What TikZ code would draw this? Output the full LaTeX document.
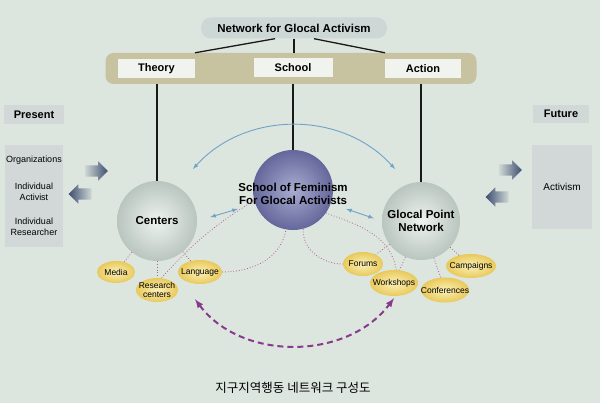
\documentclass[tikz,border=0pt]{standalone}
\usepackage{fontspec}
\setmainfont{Liberation Sans}
\newfontfamily\kofont{Noto Sans CJK KR}
\usetikzlibrary{shapes.geometric,shapes.arrows,calc}

\definecolor{bgcol}{HTML}{DDE5DF}
\definecolor{pillcol}{HTML}{CDD7D6}
\definecolor{bandcol}{HTML}{C7C2A0}
\definecolor{tagcol}{HTML}{F1F3EF}
\definecolor{sidecol}{HTML}{D1D8D7}
\definecolor{dotcol}{HTML}{B0608F}
\definecolor{bluecol}{HTML}{6FA3C8}
\definecolor{purpcol}{HTML}{8A3A8C}
\definecolor{arrcol}{HTML}{3D4E70}
\definecolor{yelin}{HTML}{FBF0B8}
\definecolor{yelout}{HTML}{E8C95A}
\definecolor{ballin}{HTML}{EEF3EF}
\definecolor{ballout}{HTML}{B9C5BF}
\definecolor{schin}{HTML}{A9ACD0}
\definecolor{schout}{HTML}{64679A}

\begin{document}
\begin{tikzpicture}[x=1pt,y=1pt,
	pill/.style={fill=pillcol, rounded corners=10pt, minimum width=186pt, minimum height=21pt, font=\bfseries\fontsize{11.5}{13}\selectfont},
	tag/.style={fill=tagcol, inner sep=0, minimum height=19pt, font=\bfseries\fontsize{11}{13}\selectfont},
	sidebox/.style={fill=sidecol, inner sep=0},
	sidetxt/.style={font=\fontsize{9}{11}\selectfont, align=center},
	sph/.style={circle, inner sep=0, minimum size=80pt, inner color=ballin, outer color=ballout},
	big/.style={font=\bfseries\fontsize{11.5}{13.5}\selectfont, align=center},
	yel/.style={ellipse, inner sep=0, inner color=yelin, outer color=yelout},
	lab/.style={font=\fontsize{8.5}{9.5}\selectfont, align=center},
	stem/.style={line width=1.3pt, draw=black!90},
	dotline/.style={dotted, line width=0.8pt, draw=dotcol},
	bluearr/.style={latex-latex, draw=bluecol, line width=0.9pt},
	purpdash/.style={latex-latex, draw=purpcol, line width=2pt, dash pattern=on 6pt off 4pt},
	blk/.style={single arrow, inner xsep=0, inner ysep=5.5pt, minimum height=23pt, single arrow head extend=4pt}]

	% background
	\useasboundingbox (0,0) rectangle (600,403);
	\fill[bgcol] (0,0) rectangle (600,403);

	% top: title and band
	\node[pill] (title) at (294,375) {Network for Glocal Activism};
	\node[fill=bandcol, rounded corners=8pt, minimum width=371pt, minimum height=31pt] (band) at (291,334.5) {};
	\node[tag, minimum width=77pt] (theory) at (156.5,334) {Theory};
	\node[tag, minimum width=79pt] (school) at (293,335) {School};
	\node[tag, minimum width=76pt] (action) at (423,334.5) {Action};
	\draw[stem] ($(title.south)+(-19,0)$) -- ($(band.north)+(-96,0)$);
	\draw[stem] (title.south) -- (title.south |- band.north);
	\draw[stem] ($(title.south)+(20,0)$) -- ($(band.north)+(94,0)$);

	% present / future
	\node[sidebox, minimum width=60pt, minimum height=19pt, font=\bfseries\fontsize{11}{13}\selectfont] (present) at (34,288.5) {Present};
	\node[sidebox, minimum width=58pt, minimum height=102pt] (plist) at (34,207) {};
	\node[sidetxt] (org) at (34,243) {Organizations};
	\node[sidetxt] (indact) at (34,211) {Individual\\Activist};
	\node[sidetxt] (indres) at (34,176.5) {Individual\\Researcher};
	\node[sidebox, minimum width=56pt, minimum height=18pt, font=\bfseries\fontsize{11}{13}\selectfont] (future) at (561,289) {Future};
	\node[sidebox, minimum width=60pt, minimum height=84pt, font=\fontsize{10}{12}\selectfont] (activism) at (562,216) {Activism};

	% block arrows
	\node[blk, left color=arrcol!8!bgcol, right color=arrcol] (pinR) at (93.5,232) {};
	\node[blk, shape border rotate=180, left color=arrcol, right color=arrcol!8!bgcol] (pinL) at (83,209) {};
	\node[blk, left color=arrcol!8!bgcol, right color=arrcol] (finR) at (507.5,233) {};
	\node[blk, shape border rotate=180, left color=arrcol, right color=arrcol!8!bgcol] (finL) at (500,206) {};

	% spheres
	\node[sph, label={[big]center:Centers}] (cen) at (157,182) {};
	\node[sph, inner color=schin, outer color=schout, label={[big,yshift=-4pt]center:School of Feminism\\For Glocal Activists}] (sch) at (293,213) {};
	\node[sph, minimum size=78pt, label={[big]center:Glocal Point\\Network}] (gpn) at (421,182) {};
	\draw[stem] (cen.north |- band.south) -- (cen.north);
	\draw[stem] (sch.north |- band.south) -- (sch.north);
	\draw[stem] (gpn.north |- band.south) -- (gpn.north);

	% yellow ellipses
	\node[yel, minimum width=38pt, minimum height=22pt, label={[lab]center:Media}] (media) at (116,131) {};
	\node[yel, minimum width=42pt, minimum height=24pt, label={[lab]center:Research\\centers}] (research) at (157,113) {};
	\node[yel, minimum width=44pt, minimum height=24pt, label={[lab]center:Language}] (language) at (200,131) {};
	\node[yel, minimum width=40pt, minimum height=24pt, label={[lab]center:Forums}] (forums) at (363,139) {};
	\node[yel, minimum width=48pt, minimum height=26pt, label={[lab]center:Workshops}] (workshops) at (394,120) {};
	\node[yel, minimum width=48pt, minimum height=25pt, label={[lab]center:Conferences}] (conferences) at (445,113) {};
	\node[yel, minimum width=50pt, minimum height=24pt, label={[lab]center:Campaigns}] (campaigns) at (471,137) {};

	% dotted links
	\foreach \e in {media,research,language}{\draw[dotline] (cen) -- (\e);}
	\foreach \e in {forums,workshops,conferences,campaigns}{\draw[dotline] (gpn) -- (\e);}
	\draw[dotline] (sch.195) to[bend right=8] (research.70);
	\draw[dotline] (language.east) to[out=0,in=260] (sch.260);
	\draw[dotline] (sch.285) to[out=265,in=180] (forums.west);
	\draw[dotline] (sch.-35) to[out=-20,in=100] (workshops.80);

	% blue arrows
	\coordinate (arcL) at (193,234);
	\coordinate (arcR) at (395,234);
	\draw[bluearr] (arcL) to[out=48,in=132] (arcR);
	\draw[bluearr, shorten <=13.6pt, shorten >=18.2pt] (cen.0) -- (sch.200);
	\draw[bluearr, shorten <=16.3pt, shorten >=8.4pt] (sch.-20) -- (gpn.180);

	% purple dashed arrow
	\draw[purpdash] ($(language.south)+(-5,-15)$) to[out=-53,in=-127] ($(workshops.south)+(0,-2)$);

	% caption
	\node[font=\kofont\fontsize{12.5}{14}\selectfont] (caption) at (293,15) {지구지역행동 네트워크 구성도};
\end{tikzpicture}
\end{document}
